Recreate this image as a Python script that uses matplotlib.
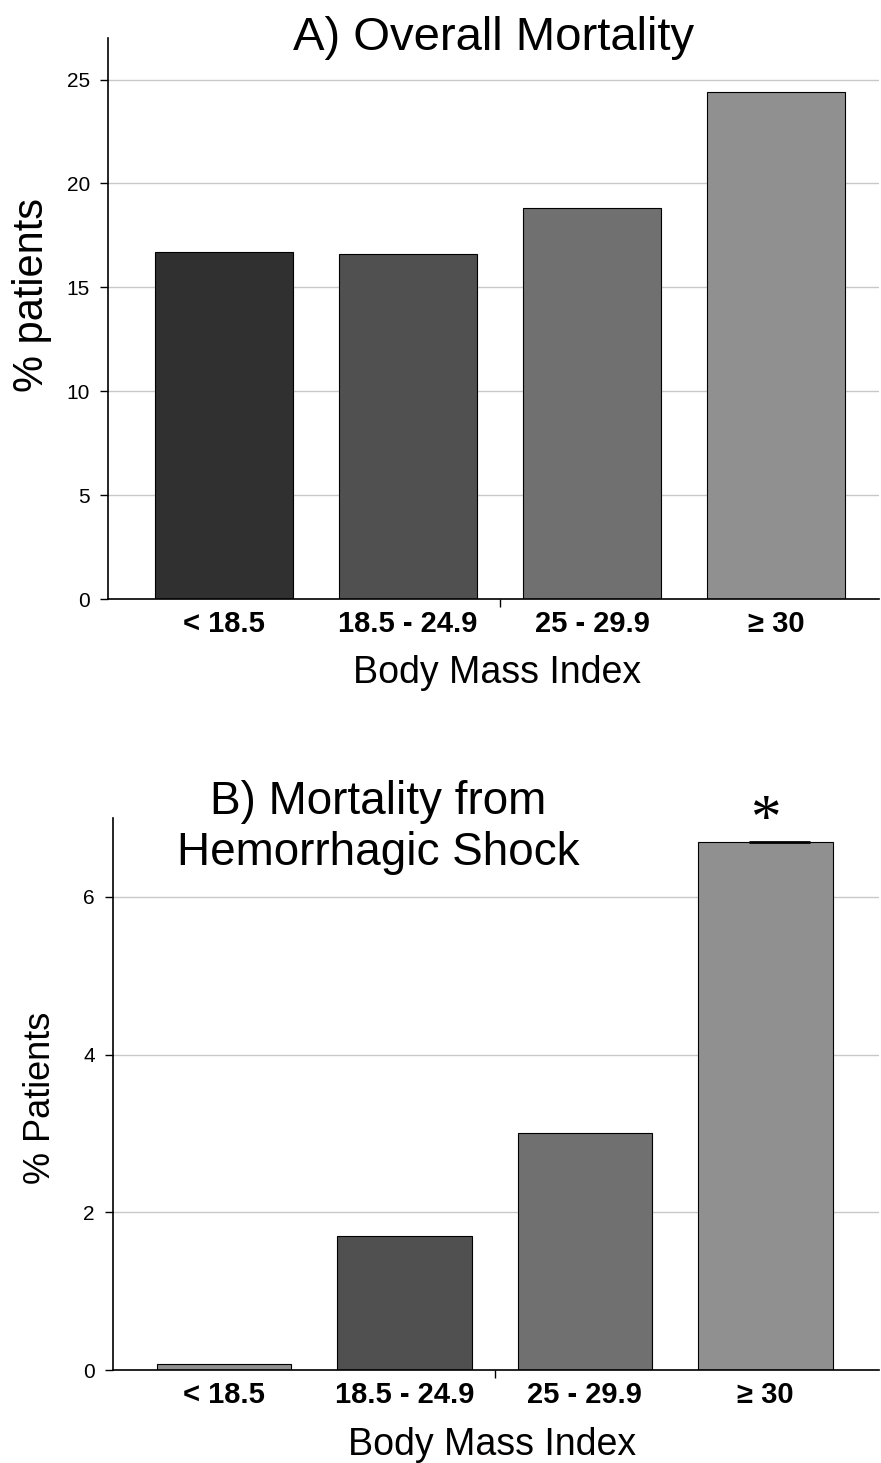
import numpy as np
import matplotlib
matplotlib.use('Agg')
import matplotlib.pyplot as plt

plt.rcParams['font.family'] = ['Liberation Sans', 'DejaVu Sans']

categories = ['< 18.5', '18.5 - 24.9', '25 - 29.9', '≥ 30']
overall = [16.7, 16.6, 18.8, 24.4]
hemorrhagic = [0.08, 1.7, 3.0, 6.7]
colors_a = ['#303030', '#505050', '#707070', '#909090']
colors_b = ['#909090', '#505050', '#707070', '#909090']

x = np.arange(len(categories))

fig = plt.figure(figsize=(8.81, 14.63), dpi=100)
ax1 = fig.add_axes([108/881, 864/1463, 771/881, 561/1463])
ax2 = fig.add_axes([113/881, 93/1463, 766/881, 552/1463])


def style(ax, ylim, yticks, xlim):
    ax.set_xlim(*xlim)
    ax.set_ylim(*ylim)
    ax.set_yticks(yticks)
    ax.set_xticks(x)
    ax.set_xticklabels(categories, fontsize=21, fontweight='bold')
    ax.set_xticks([1.5], minor=True)
    ax.tick_params(axis='x', which='major', length=0, pad=8)
    ax.tick_params(axis='x', which='minor', length=6, width=1)
    ax.tick_params(axis='y', length=6, width=1, labelsize=15, pad=7)
    ax.yaxis.grid(True, color='#c8c8c8', lw=1)
    ax.set_axisbelow(True)
    for s in ['top', 'right']:
        ax.spines[s].set_visible(False)
    for s in ['left', 'bottom']:
        ax.spines[s].set_linewidth(1.2)


# A) overall mortality
ax1.bar(x, overall, width=0.75, color=colors_a, edgecolor='black', lw=0.8)
style(ax1, (0, 27), [0, 5, 10, 15, 20, 25], (-0.63, 3.56))
ax1.text(0.5, 0.979, 'A) Overall Mortality', transform=ax1.transAxes,
         ha='center', va='baseline', fontsize=34)
ax1.set_ylabel('% patients', fontsize=30)
ax1.yaxis.label.set_va('center')
ax1.yaxis.set_label_coords(-0.099, 0.542)
ax1.set_xlabel('Body Mass Index', fontsize=27)
ax1.xaxis.label.set_va('baseline')
ax1.xaxis.set_label_coords(0.504, -0.150)

# B) hemorrhagic shock
ax2.bar(x, hemorrhagic, width=0.745, color=colors_b, edgecolor='black', lw=0.8)
style(ax2, (0, 7), [0, 2, 4, 6], (-0.615, 3.63))
ax2.hlines(hemorrhagic[3], x[3] - 0.09, x[3] + 0.25, color='black', lw=2)
ax2.annotate('*', (x[3], hemorrhagic[3]), xytext=(0, 4), textcoords='offset points',
             ha='center', va='baseline', fontsize=44, family='Liberation Serif')
ax2.text(0.346, 0.897, 'B) Mortality from\nHemorrhagic Shock', transform=ax2.transAxes,
         ha='center', va='bottom', fontsize=33)
ax2.set_ylabel('% Patients', fontsize=26)
ax2.yaxis.label.set_va('center')
ax2.yaxis.set_label_coords(-0.095, 0.493)
ax2.set_xlabel('Body Mass Index', fontsize=27)
ax2.xaxis.label.set_va('baseline')
ax2.xaxis.set_label_coords(0.495, -0.154)

plt.savefig('out.png', dpi=100)
